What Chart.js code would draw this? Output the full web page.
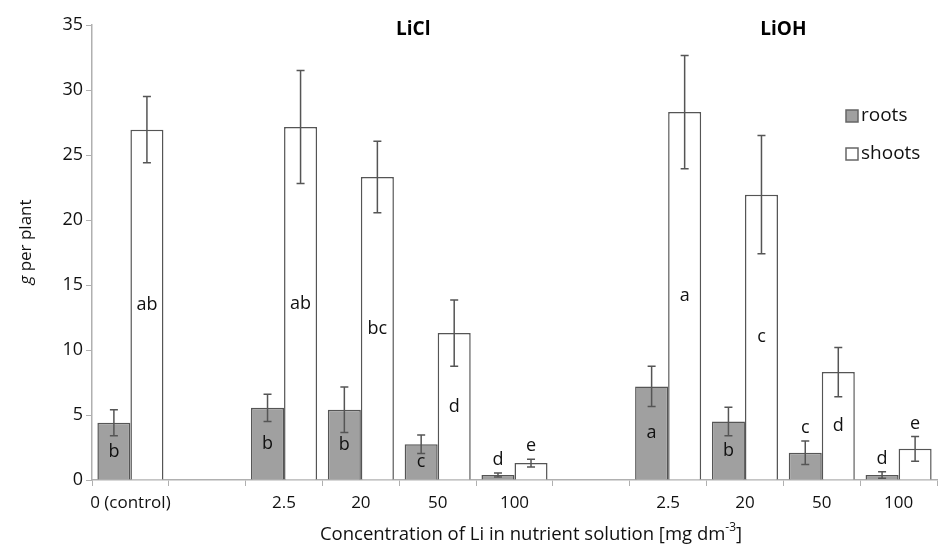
<!DOCTYPE html>
<html>
<head>
<meta charset="utf-8">
<script src="https://cdn.jsdelivr.net/npm/chart.js@4"></script>
<style>
  html, body { margin: 0; padding: 0; background: #fff; }
  #wrap { width: 939px; height: 549px; }
</style>
</head>
<body>
<div id="wrap"><canvas id="chart" width="939" height="549"></canvas></div>
<script>
// categories (blank entries are the gaps between groups)
const categories = ['0 (control)', '', '2.5', '20', '50', '100', '', '2.5', '20', '50', '100'];

// roots and shoots, g per plant
const roots = [4.4, null, 5.55, 5.4, 2.75, 0.38, null, 7.2, 4.5, 2.1, 0.38];
const rootsErr = [1.0, null, 1.05, 1.75, 0.72, 0.15, null, 1.55, 1.1, 0.9, 0.25];
const shoots = [26.95, null, 27.15, 23.3, 11.3, 1.3, null, 28.3, 21.95, 8.3, 2.4];
const shootsErr = [2.55, null, 4.35, 2.75, 2.55, 0.3, null, 4.35, 4.55, 1.9, 0.95];

// significance letters
const rootsLetters = ['b', '', 'b', 'b', 'c', 'd', '', 'a', 'b', 'c', 'd'];
const shootsLetters = ['ab', '', 'ab', 'bc', 'd', 'e', '', 'a', 'c', 'd', 'e'];

const yTicks = [0, 5, 10, 15, 20, 25, 30, 35];

const FONT = '"Open Sans", "DejaVu Sans", sans-serif';
const AXIS_GRAY = '#b0b0b0';
const TEXT = '#111';

// error bars + letters
const barExtras = {
    id: 'barExtras',
    afterDatasetsDraw(chart) {
        const ctx = chart.ctx;
        const y = chart.scales.y;
        const sets = [
            { vals: roots, err: rootsErr, letters: rootsLetters },
            { vals: shoots, err: shootsErr, letters: shootsLetters }
        ];
        ctx.save();
        sets.forEach((s, di) => {
            const meta = chart.getDatasetMeta(di);
            meta.data.forEach((bar, i) => {
                if (s.vals[i] == null) return;
                const x = bar.x;
                const top = y.getPixelForValue(s.vals[i] + s.err[i]);
                const bot = y.getPixelForValue(Math.max(0, s.vals[i] - s.err[i]));
                ctx.strokeStyle = '#555';
                ctx.lineWidth = 1.5;
                ctx.beginPath();
                ctx.moveTo(x, top); ctx.lineTo(x, bot);
                ctx.moveTo(x - 4, top); ctx.lineTo(x + 4, top);
                ctx.moveTo(x - 4, bot); ctx.lineTo(x + 4, bot);
                ctx.stroke();

                // letter: middle of bar when tall enough, else above error bar
                ctx.fillStyle = TEXT;
                ctx.font = '18px ' + FONT;
                ctx.textAlign = 'center';
                ctx.textBaseline = 'middle';
                let ly;
                if (s.vals[i] > 2.5) {
                    ly = y.getPixelForValue(s.vals[i] / 2);
                } else {
                    ly = top - 13;
                }
                ctx.fillText(s.letters[i], x, ly);
            });
        });
        ctx.restore();
    }
};

// group titles, legend and axis titles
const decorations = {
    id: 'decorations',
    afterDraw(chart) {
        const ctx = chart.ctx;
        const x = chart.scales.x;
        ctx.save();
        ctx.fillStyle = '#000';
        ctx.font = 'bold 19px ' + FONT;
        ctx.textAlign = 'center';
        ctx.textBaseline = 'middle';
        ctx.fillText('LiCl', (x.getPixelForValue(3) + x.getPixelForValue(4)) / 2 + 14, 30);
        ctx.fillText('LiOH', (x.getPixelForValue(8) + x.getPixelForValue(9)) / 2, 30);

        // legend
        const items = [
            { label: 'roots', fill: '#a0a0a0' },
            { label: 'shoots', fill: '#ffffff' }
        ];
        items.forEach((it, k) => {
            const ly = 116 + k * 38;
            ctx.fillStyle = it.fill;
            ctx.strokeStyle = '#666';
            ctx.lineWidth = 1.5;
            ctx.fillRect(846, ly - 6, 12, 12);
            ctx.strokeRect(846, ly - 6, 12, 12);
            ctx.fillStyle = TEXT;
            ctx.font = '19px ' + FONT;
            ctx.textAlign = 'left';
            ctx.fillText(it.label, 861, ly);
        });

        // y title: italic g + " per plant"
        ctx.translate(26, 242);
        ctx.rotate(-Math.PI / 2);
        ctx.textAlign = 'left';
        ctx.fillStyle = TEXT;
        ctx.font = 'italic 17px ' + FONT;
        const gW = ctx.measureText('g').width;
        ctx.font = '17px ' + FONT;
        const restW = ctx.measureText(' per plant').width;
        const start = -(gW + restW) / 2;
        ctx.font = 'italic 17px ' + FONT;
        ctx.fillText('g', start, 0);
        ctx.font = '17px ' + FONT;
        ctx.fillText(' per plant', start + gW, 0);
        ctx.setTransform(1, 0, 0, 1, 0, 0);

        // x title with superscript
        const main = 'Concentration of Li in nutrient solution [mg dm';
        ctx.font = '12px ' + FONT;
        const supW = ctx.measureText('-3').width;
        ctx.font = '18.5px ' + FONT;
        const mainW = ctx.measureText(main).width;
        const endW = ctx.measureText(']').width;
        let sx = 531 - (mainW + supW + endW) / 2;
        const ty = 535;
        ctx.fillText(main, sx, ty);
        ctx.font = '12px ' + FONT;
        ctx.fillText('-3', sx + mainW, ty - 7);
        ctx.font = '18.5px ' + FONT;
        ctx.fillText(']', sx + mainW + supW, ty);
        ctx.restore();
    }
};

new Chart(document.getElementById('chart'), {
    type: 'bar',
    data: {
        labels: categories,
        datasets: [
            {
                label: 'roots',
                data: roots,
                backgroundColor: '#a0a0a0',
                borderColor: '#555',
                borderWidth: 1.5,
                categoryPercentage: 0.86,
                barPercentage: 1.0
            },
            {
                label: 'shoots',
                data: shoots,
                backgroundColor: '#ffffff',
                borderColor: '#555',
                borderWidth: 1.5,
                categoryPercentage: 0.86,
                barPercentage: 1.0
            }
        ]
    },
    options: {
        responsive: false,
        animation: false,
        layout: { padding: { top: 25, right: 2, left: 0, bottom: 0 } },
        plugins: {
            legend: { display: false },
            tooltip: { enabled: false }
        },
        scales: {
            x: {
                grid: {
                    drawOnChartArea: false,
                    drawTicks: true,
                    tickLength: 6,
                    color: AXIS_GRAY,
                    offset: true
                },
                border: { color: AXIS_GRAY, width: 1.5 },
                ticks: {
                    color: TEXT,
                    font: { family: FONT, size: 17 },
                    maxRotation: 0,
                    autoSkip: false,
                    padding: 7
                },
                afterFit: s => { s.height = 69; }
            },
            y: {
                min: 0,
                max: 35,
                afterBuildTicks: s => { s.ticks = yTicks.map(v => ({ value: v })); },
                grid: {
                    drawOnChartArea: false,
                    drawTicks: true,
                    tickLength: 6,
                    color: AXIS_GRAY
                },
                border: { color: AXIS_GRAY, width: 1.5 },
                ticks: {
                    color: TEXT,
                    font: { family: FONT, size: 18 },
                    padding: 3
                },
                afterFit: s => { s.width = 92; }
            }
        }
    },
    plugins: [barExtras, decorations]
});
</script>
</body>
</html>
